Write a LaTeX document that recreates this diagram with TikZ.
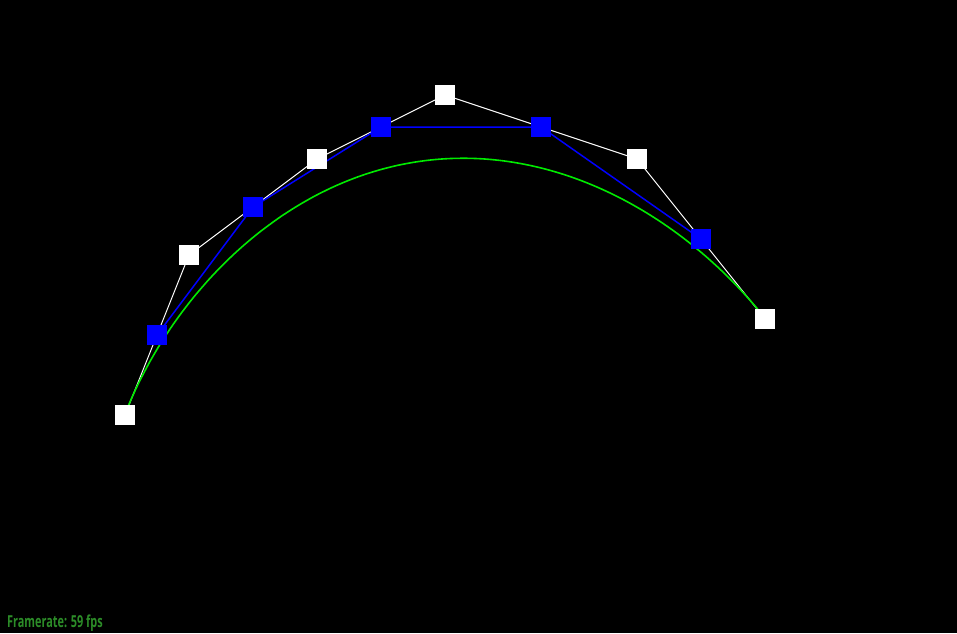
\documentclass[tikz,border=0pt]{standalone}
\usepackage{fontspec}
\usepackage{xcolor}
\usepackage{tikz}
\usetikzlibrary{positioning,calc}
\newfontfamily\hudfont[FakeStretch=0.66]{Open Sans}
\definecolor{hudgreen}{RGB}{44,140,40}
\definecolor{curvegreen}{RGB}{0,235,0}
\tikzset{
  ctrlpt/.style={
    draw=none,
    fill=white,
    rectangle,
    minimum size=20pt,
    inner sep=0pt
  },
  midpt/.style={
    draw=none,
    fill=blue,
    rectangle,
    minimum size=20pt,
    inner sep=0pt
  },
  ctrlline/.style={white,line width=1pt},
  midline/.style={blue,line width=1.5pt},
  curveline/.style={curvegreen,line width=1.6pt},
  hudtext/.style={font=\hudfont\bfseries\fontsize{16.5}{18}\selectfont,text=hudgreen,inner sep=0pt,anchor=base west}
}

\begin{document}
\begin{tikzpicture}[x=1pt,y=-1pt]
  \fill[black] (0,0) rectangle (957,633);
  \useasboundingbox (0,0) rectangle (957,633);
  % control polygon
  \coordinate (p0) at (125,415);
  \coordinate (p1) at (189,255);
  \coordinate (p2) at (317,159);
  \coordinate (p3) at (445,95);
  \coordinate (p4) at (637,159);
  \coordinate (p5) at (765,319);
  \draw[ctrlline] (p0) -- (p1) -- (p2) -- (p3) -- (p4) -- (p5);
  % first subdivision level
  \coordinate (q0) at ($(p0)!0.5!(p1)$);
  \coordinate (q1) at ($(p1)!0.5!(p2)$);
  \coordinate (q2) at ($(p2)!0.5!(p3)$);
  \coordinate (q3) at ($(p3)!0.5!(p4)$);
  \coordinate (q4) at ($(p4)!0.5!(p5)$);
  \draw[midline] (q0) -- (q1) -- (q2) -- (q3) -- (q4);
  % bezier curve of degree 5
  \draw[curveline] plot[domain=0:1,samples=120,smooth,variable=\t]
    ({(1-\t)^5*125 + 5*\t*(1-\t)^4*189 + 10*\t^2*(1-\t)^3*317 + 10*\t^3*(1-\t)^2*445 + 5*\t^4*(1-\t)*637 + \t^5*765},
     {(1-\t)^5*414 + 5*\t*(1-\t)^4*254 + 10*\t^2*(1-\t)^3*158 + 10*\t^3*(1-\t)^2*94 + 5*\t^4*(1-\t)*158 + \t^5*318});
  % points on top
  \foreach \i in {0,...,5}
    \node[ctrlpt] (cp\i) at (p\i) {};
  \foreach \i in {0,...,4}
    \node[midpt] (mp\i) at (q\i) {};
  \node[hudtext] (fps) at (7,627) {Framerate: 59 fps};
\end{tikzpicture}
\end{document}
